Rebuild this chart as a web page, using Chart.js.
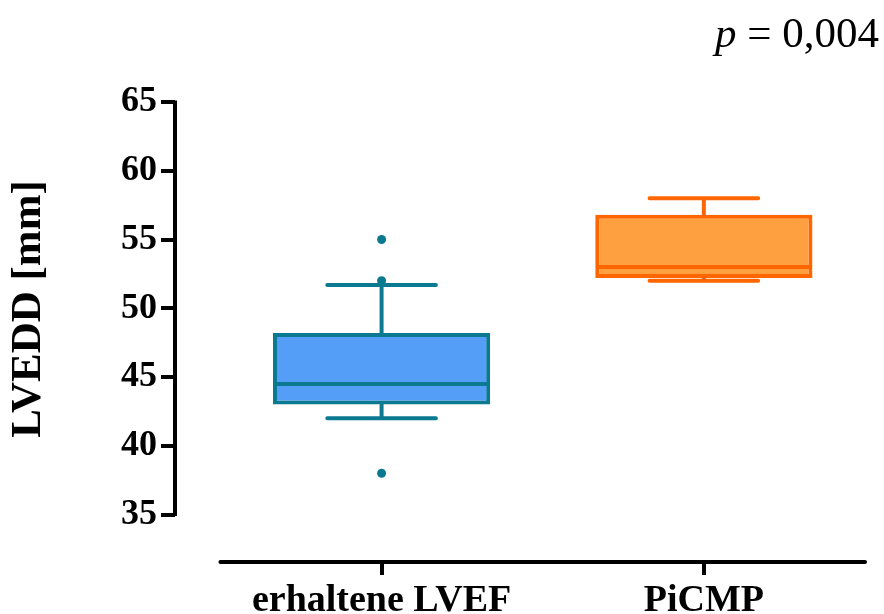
<!DOCTYPE html>
<html>
<head>
<meta charset="utf-8">
<script src="https://cdn.jsdelivr.net/npm/chart.js@4.4.0/dist/chart.umd.min.js"></script>
<style>
  html, body { margin: 0; padding: 0; background: #ffffff; }
  #wrap { width: 884px; height: 614px; }
</style>
</head>
<body>
<div id="wrap"><canvas id="box_x" width="884" height="614"></canvas></div>
<script>
// groups and box plot values (mm)
const groups = ['erhaltene LVEF', 'PiCMP'];
const q1 = [43, 52.2];
const q3 = [48.2, 56.8];
const medians = [44.5, 53];
const whiskerLow = [42, 52];
const whiskerHigh = [51.7, 58];
const outliers = [[38, 52, 55], []];
const yTicks = [35, 40, 45, 50, 55, 60, 65];
const pText = '0,004';

const fills = ['#559ef8', '#ffa040'];
const lines = ['#0b7a91', '#ff6600'];
const serif = "'Liberation Serif', 'DejaVu Serif', serif";

// build the datasets from the arrays
let boxData = [];
for (let i = 0; i < groups.length; i++) {
    boxData.push({ x: i + 1, y: [q1[i], q3[i]] });
}
let outlierData = [];
for (let i = 0; i < outliers.length; i++) {
    for (let j = 0; j < outliers[i].length; j++) {
        outlierData.push({ x: i + 1, y: outliers[i][j] });
    }
}

// whiskers, medians, axis lines and texts
const boxExtras = {
    id: 'boxExtras',
    afterDatasetsDraw(chart) {
        const ctx = chart.ctx;
        const xs = chart.scales.x;
        const ys = chart.scales.y;
        const bars = chart.getDatasetMeta(0).data;
        ctx.save();
        ctx.lineWidth = 4;
        ctx.lineCap = 'round';
        for (let i = 0; i < groups.length; i++) {
            const cx = xs.getPixelForValue(i + 1);
            const half = bars[i].width / 2;
            ctx.strokeStyle = lines[i];
            // upper whisker
            ctx.beginPath();
            ctx.moveTo(cx, ys.getPixelForValue(q3[i]));
            ctx.lineTo(cx, ys.getPixelForValue(whiskerHigh[i]));
            ctx.moveTo(cx - half / 2, ys.getPixelForValue(whiskerHigh[i]));
            ctx.lineTo(cx + half / 2, ys.getPixelForValue(whiskerHigh[i]));
            // lower whisker
            ctx.moveTo(cx, ys.getPixelForValue(q1[i]));
            ctx.lineTo(cx, ys.getPixelForValue(whiskerLow[i]));
            ctx.moveTo(cx - half / 2, ys.getPixelForValue(whiskerLow[i]));
            ctx.lineTo(cx + half / 2, ys.getPixelForValue(whiskerLow[i]));
            ctx.stroke();
            // median
            ctx.lineCap = 'butt';
            ctx.beginPath();
            ctx.moveTo(cx - half + 2, ys.getPixelForValue(medians[i]));
            ctx.lineTo(cx + half - 2, ys.getPixelForValue(medians[i]));
            ctx.stroke();
            ctx.lineCap = 'round';
        }
        ctx.restore();
    },
    afterDraw(chart) {
        const ctx = chart.ctx;
        const xs = chart.scales.x;
        const ys = chart.scales.y;
        ctx.save();
        ctx.strokeStyle = '#000000';
        ctx.lineWidth = 4;
        // y axis line only over the tick range
        ctx.beginPath();
        ctx.moveTo(chart.chartArea.left, ys.getPixelForValue(yTicks[0]) + 1.5);
        ctx.lineTo(chart.chartArea.left, ys.getPixelForValue(yTicks[yTicks.length - 1]) - 1.5);
        ctx.stroke();
        // x axis line
        ctx.lineCap = 'round';
        ctx.beginPath();
        ctx.moveTo(xs.getPixelForValue(0.5), chart.chartArea.bottom);
        ctx.lineTo(xs.getPixelForValue(2.5), chart.chartArea.bottom);
        ctx.stroke();

        // y title
        ctx.fillStyle = '#000000';
        ctx.translate(29, 309);
        ctx.rotate(-Math.PI / 2);
        ctx.font = 'bold 43px ' + serif;
        ctx.textAlign = 'center';
        ctx.textBaseline = 'middle';
        ctx.fillText('LVEDD [mm]', 0, 0);
        ctx.restore();

        // p value, italic p
        ctx.save();
        ctx.fillStyle = '#000000';
        ctx.textBaseline = 'alphabetic';
        ctx.font = '43px ' + serif;
        const rest = ' = ' + pText;
        const wRest = ctx.measureText(rest).width;
        const right = 879;
        ctx.fillText(rest, right - wRest, 47);
        ctx.font = 'italic 43px ' + serif;
        const wP = ctx.measureText('p').width;
        ctx.fillText('p', right - wRest - wP, 47);
        ctx.restore();
    }
};

const ctx = document.getElementById('box_x').getContext('2d');
const myChart = new Chart(ctx, {
    type: 'bar',
    data: {
        datasets: [
            {
                data: boxData,
                backgroundColor: fills,
                borderColor: lines,
                borderWidth: 4,
                borderSkipped: false,
                barPercentage: 0.674,
                categoryPercentage: 1,
            },
            {
                type: 'scatter',
                data: outlierData,
                backgroundColor: lines[0],
                borderColor: lines[0],
                pointRadius: 4.5,
                pointBorderWidth: 0,
            },
        ],
    },
    options: {
        responsive: false,
        animation: false,
        devicePixelRatio: 1,
        layout: { padding: { top: 102, right: 19, left: 0, bottom: 0 } },
        plugins: {
            legend: { display: false },
            tooltip: { enabled: false },
        },
        scales: {
            x: {
                type: 'linear',
                min: 0.359,
                max: 2.5,
                offset: false,
                afterBuildTicks: (scale) => {
                    scale.ticks = groups.map((g, i) => ({ value: i + 1 }));
                },
                afterFit: (scale) => { scale.height = 52; },
                ticks: {
                    color: '#000000',
                    padding: 3,
                    font: { family: serif, size: 38, weight: 'bold' },
                    callback: (v) => groups[v - 1],
                    maxRotation: 0,
                },
                grid: {
                    offset: false,
                    drawOnChartArea: false,
                    tickLength: 13,
                    lineWidth: 4,
                    color: '#000000',
                },
                border: { display: false },
            },
            y: {
                min: 31.55,
                max: 65,
                afterBuildTicks: (scale) => {
                    scale.ticks = yTicks.map((v) => ({ value: v }));
                },
                afterFit: (scale) => { scale.width = 175; },
                ticks: {
                    color: '#000000',
                    padding: 4,
                    font: { family: serif, size: 36, weight: 'bold' },
                },
                grid: {
                    drawOnChartArea: false,
                    tickLength: 14,
                    lineWidth: 4,
                    color: '#000000',
                },
                border: { display: false },
            },
        },
    },
    plugins: [boxExtras],
});
</script>
</body>
</html>
